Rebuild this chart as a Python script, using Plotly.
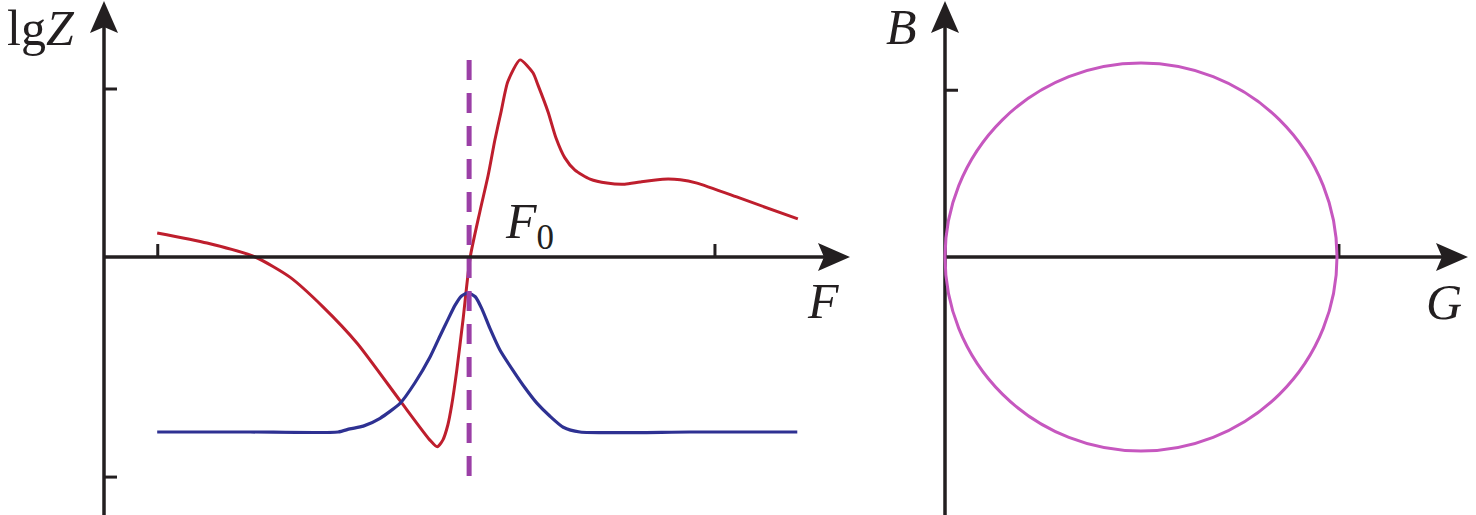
import plotly.graph_objects as go

# ---------------- data ----------------
F_red = [0.95, 1.84, 2.70, 3.32, 3.91, 4.52, 5.29, 5.82, 5.95, 6.05, 6.14, 6.21, 6.30,
         6.41, 6.54, 6.71, 6.86, 6.98, 7.09, 7.21, 7.43, 7.66, 7.75, 7.93,
         8.07, 8.23, 8.41, 8.68, 8.98, 9.30, 9.57, 9.98, 10.29, 10.59, 11.36, 12.39]
lgZ_red = [0.43, 0.25, 0.00, -0.36, -0.89, -1.54, -2.57, -3.27, -3.39, -3.27, -3.00, -2.64, -2.02,
           -1.13, 0.00, 0.80, 1.46, 2.09, 2.59, 3.13, 3.52, 3.29, 3.07, 2.59,
           2.13, 1.77, 1.55, 1.39, 1.32, 1.30, 1.34, 1.39, 1.38, 1.32, 1.05, 0.68]

F_blue = [0.95, 2.61, 4.18, 4.39, 4.63, 4.93, 5.29, 5.55, 5.82, 6.00, 6.13, 6.27, 6.38,
          6.50, 6.63, 6.75, 6.89, 7.07, 7.30, 7.52, 7.73, 7.96, 8.20, 8.50, 10.46, 12.38]
lgZ_blue = [-3.125, -3.125, -3.125, -3.07, -3.02, -2.88, -2.61, -2.25, -1.79, -1.41, -1.14, -0.86, -0.70,
            -0.64, -0.71, -0.93, -1.27, -1.66, -2.02, -2.34, -2.61, -2.84, -3.04, -3.125, -3.125, -3.125]

F0 = 6.52
F0_lgZ_span = [-3.91, 3.66]

circle_G = [0.0, 2.0]
circle_B = [-1.0, 1.0]

left_xticks = [0.96, 10.91]
left_yticks = [3.0, -3.93]
right_xticks = [2.01]
right_yticks = [0.86]

# ---------------- geometry helpers ----------------
W, H = 1476, 515
PX_F, PX_Z = 56.0, 56.0       # pixels per unit, left panel
PX_G, PX_B = 196.0, 194.0     # pixels per unit, right panel
SPLIT = 0.6
OX_L, OX_R, OY = 104, 945, 257  # pixel position of the origins

left_xrange = [-OX_L / PX_F, (W * SPLIT - OX_L) / PX_F]
left_yrange = [(OY - H) / PX_Z, OY / PX_Z]
right_xrange = [(W * SPLIT - OX_R) / PX_G, (W - OX_R) / PX_G]
right_yrange = [(OY - H) / PX_B, OY / PX_B]

AX_COLOR = "#231f20"
AX_W = 3.5
TICK_LEN = 13
HEAD_LEN, HEAD_HALF, HEAD_NOTCH = 32, 14, 26

fig = go.Figure()

fig.add_trace(go.Scatter(x=F_red, y=lgZ_red, mode="lines", xaxis="x", yaxis="y",
                         line=dict(color="#be1e2d", width=3, shape="spline", smoothing=0.6),
                         hoverinfo="skip"))
fig.add_trace(go.Scatter(x=F_blue, y=lgZ_blue, mode="lines", xaxis="x", yaxis="y",
                         line=dict(color="#2e3192", width=3.2, shape="spline", smoothing=0.6),
                         hoverinfo="skip"))
fig.add_trace(go.Scatter(x=[F0, F0], y=F0_lgZ_span, mode="lines", xaxis="x", yaxis="y",
                         line=dict(color="#9b3fa6", width=5, dash="20px,13px"),
                         hoverinfo="skip"))

shapes = []


def axis_arrows(xr, yr, sx, sy, x_tip, y_tip, y_bottom):
    # vertical axis
    shapes.append(dict(type="line", xref=xr, yref=yr, x0=0, x1=0, y0=y_bottom,
                       y1=y_tip - HEAD_NOTCH / sy, line=dict(color=AX_COLOR, width=AX_W)))
    shapes.append(dict(type="path", xref=xr, yref=yr, line=dict(width=0), fillcolor=AX_COLOR,
                       path=f"M 0 {y_tip} L {-HEAD_HALF / sx} {y_tip - HEAD_LEN / sy} "
                            f"L 0 {y_tip - HEAD_NOTCH / sy} L {HEAD_HALF / sx} {y_tip - HEAD_LEN / sy} Z"))
    # horizontal axis
    shapes.append(dict(type="line", xref=xr, yref=yr, x0=0, x1=x_tip - HEAD_NOTCH / sx,
                       y0=0, y1=0, line=dict(color=AX_COLOR, width=AX_W)))
    shapes.append(dict(type="path", xref=xr, yref=yr, line=dict(width=0), fillcolor=AX_COLOR,
                       path=f"M {x_tip} 0 L {x_tip - HEAD_LEN / sx} {HEAD_HALF / sy} "
                            f"L {x_tip - HEAD_NOTCH / sx} 0 L {x_tip - HEAD_LEN / sx} {-HEAD_HALF / sy} Z"))


axis_arrows("x", "y", PX_F, PX_Z, (850 - OX_L) / PX_F, (OY - 1) / PX_Z, left_yrange[0])
axis_arrows("x2", "y2", PX_G, PX_B, (1468 - OX_R) / PX_G, (OY - 1) / PX_B, right_yrange[0])

for t in left_xticks:
    shapes.append(dict(type="line", xref="x", yref="y", x0=t, x1=t, y0=0, y1=TICK_LEN / PX_Z,
                       line=dict(color=AX_COLOR, width=3)))
for t in left_yticks:
    shapes.append(dict(type="line", xref="x", yref="y", x0=0, x1=TICK_LEN / PX_F, y0=t, y1=t,
                       line=dict(color=AX_COLOR, width=3)))
for t in right_xticks:
    shapes.append(dict(type="line", xref="x2", yref="y2", x0=t, x1=t, y0=0, y1=TICK_LEN / PX_B,
                       line=dict(color=AX_COLOR, width=3)))
for t in right_yticks:
    shapes.append(dict(type="line", xref="x2", yref="y2", x0=0, x1=TICK_LEN / PX_G, y0=t, y1=t,
                       line=dict(color=AX_COLOR, width=3)))

shapes.append(dict(type="circle", xref="x2", yref="y2",
                   x0=circle_G[0], x1=circle_G[1], y0=circle_B[0], y1=circle_B[1],
                   line=dict(color="#c657bf", width=3)))

FONT = dict(family="Liberation Serif", size=50, color=AX_COLOR)
annotations = [
    dict(text="lg<i>Z</i>", xref="x", yref="y", x=-1.125, y=4.09, showarrow=False,
         xanchor="center", yanchor="middle", font=FONT),
    dict(text="<i>F</i>", xref="x", yref="y", x=12.84, y=-0.78, showarrow=False,
         xanchor="center", yanchor="middle", font=FONT),
    dict(text="<i>F</i><sub>0</sub>", xref="x", yref="y", x=7.6, y=0.58, showarrow=False,
         xanchor="center", yanchor="middle", font=FONT),
    dict(text="<i>B</i>", xref="x2", yref="y2", x=-0.224, y=1.185, showarrow=False,
         xanchor="center", yanchor="middle", font=FONT),
    dict(text="<i>G</i>", xref="x2", yref="y2", x=2.548, y=-0.23, showarrow=False,
         xanchor="center", yanchor="middle", font=FONT),
]

hidden = dict(visible=False, showgrid=False, zeroline=False, fixedrange=True)
fig.update_layout(
    width=W, height=H,
    margin=dict(l=0, r=0, t=0, b=0),
    paper_bgcolor="white", plot_bgcolor="white",
    showlegend=False,
    xaxis=dict(domain=[0, SPLIT], range=left_xrange, **hidden),
    yaxis=dict(domain=[0, 1], range=left_yrange, **hidden),
    xaxis2=dict(domain=[SPLIT, 1], range=right_xrange, **hidden),
    yaxis2=dict(domain=[0, 1], range=right_yrange, anchor="x2", **hidden),
    shapes=shapes,
    annotations=annotations,
)

fig.write_html("out.html", config={"displayModeBar": False},
               post_script="document.body.style.margin='0';")
